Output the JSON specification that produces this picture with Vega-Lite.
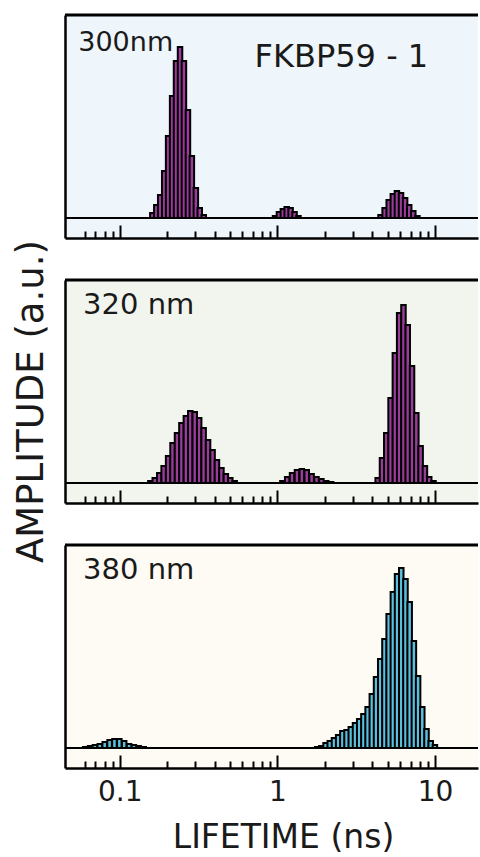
{
  "$schema": "https://vega.github.io/schema/vega-lite/v6.json",
  "background": "white",
  "padding": {"left": 11, "top": 13, "right": 0, "bottom": 0},
  "spacing": 42,
  "bounds": "flush",
  "config": {"view": {"stroke": null}, "font": "DejaVu Sans", "axis": {"grid": false}},
  "datasets": {
    "bars": [
      {"panel": 300, "lifetime": 0.1608, "amplitude": 5},
      {"panel": 300, "lifetime": 0.1704, "amplitude": 13},
      {"panel": 300, "lifetime": 0.1804, "amplitude": 23},
      {"panel": 300, "lifetime": 0.1913, "amplitude": 47},
      {"panel": 300, "lifetime": 0.2025, "amplitude": 82},
      {"panel": 300, "lifetime": 0.2147, "amplitude": 122},
      {"panel": 300, "lifetime": 0.2273, "amplitude": 157},
      {"panel": 300, "lifetime": 0.2410, "amplitude": 171},
      {"panel": 300, "lifetime": 0.2551, "amplitude": 157},
      {"panel": 300, "lifetime": 0.2705, "amplitude": 108},
      {"panel": 300, "lifetime": 0.2864, "amplitude": 62},
      {"panel": 300, "lifetime": 0.3036, "amplitude": 30},
      {"panel": 300, "lifetime": 0.3214, "amplitude": 10},
      {"panel": 300, "lifetime": 0.3407, "amplitude": 3},
      {"panel": 300, "lifetime": 0.965, "amplitude": 2},
      {"panel": 300, "lifetime": 1.022, "amplitude": 6},
      {"panel": 300, "lifetime": 1.082, "amplitude": 9},
      {"panel": 300, "lifetime": 1.145, "amplitude": 11},
      {"panel": 300, "lifetime": 1.212, "amplitude": 10},
      {"panel": 300, "lifetime": 1.284, "amplitude": 6},
      {"panel": 300, "lifetime": 1.359, "amplitude": 2},
      {"panel": 300, "lifetime": 4.507, "amplitude": 3},
      {"panel": 300, "lifetime": 4.786, "amplitude": 10},
      {"panel": 300, "lifetime": 5.081, "amplitude": 18},
      {"panel": 300, "lifetime": 5.394, "amplitude": 24},
      {"panel": 300, "lifetime": 5.727, "amplitude": 27},
      {"panel": 300, "lifetime": 6.080, "amplitude": 25},
      {"panel": 300, "lifetime": 6.455, "amplitude": 20},
      {"panel": 300, "lifetime": 6.853, "amplitude": 13},
      {"panel": 300, "lifetime": 7.275, "amplitude": 7},
      {"panel": 300, "lifetime": 7.724, "amplitude": 2},
      {"panel": 320, "lifetime": 0.1562, "amplitude": 2},
      {"panel": 320, "lifetime": 0.1666, "amplitude": 5},
      {"panel": 320, "lifetime": 0.1779, "amplitude": 10},
      {"panel": 320, "lifetime": 0.1897, "amplitude": 17},
      {"panel": 320, "lifetime": 0.2025, "amplitude": 27},
      {"panel": 320, "lifetime": 0.2160, "amplitude": 40},
      {"panel": 320, "lifetime": 0.2306, "amplitude": 50},
      {"panel": 320, "lifetime": 0.2459, "amplitude": 60},
      {"panel": 320, "lifetime": 0.2625, "amplitude": 67},
      {"panel": 320, "lifetime": 0.2799, "amplitude": 72},
      {"panel": 320, "lifetime": 0.2988, "amplitude": 71},
      {"panel": 320, "lifetime": 0.3187, "amplitude": 65},
      {"panel": 320, "lifetime": 0.3402, "amplitude": 55},
      {"panel": 320, "lifetime": 0.3629, "amplitude": 43},
      {"panel": 320, "lifetime": 0.3877, "amplitude": 33},
      {"panel": 320, "lifetime": 0.4132, "amplitude": 23},
      {"panel": 320, "lifetime": 0.4412, "amplitude": 15},
      {"panel": 320, "lifetime": 0.4705, "amplitude": 9},
      {"panel": 320, "lifetime": 0.5023, "amplitude": 5},
      {"panel": 320, "lifetime": 0.5356, "amplitude": 2},
      {"panel": 320, "lifetime": 1.074, "amplitude": 2},
      {"panel": 320, "lifetime": 1.153, "amplitude": 6},
      {"panel": 320, "lifetime": 1.238, "amplitude": 10},
      {"panel": 320, "lifetime": 1.330, "amplitude": 13},
      {"panel": 320, "lifetime": 1.428, "amplitude": 14},
      {"panel": 320, "lifetime": 1.534, "amplitude": 13},
      {"panel": 320, "lifetime": 1.647, "amplitude": 9},
      {"panel": 320, "lifetime": 1.769, "amplitude": 6},
      {"panel": 320, "lifetime": 1.900, "amplitude": 4},
      {"panel": 320, "lifetime": 2.040, "amplitude": 2},
      {"panel": 320, "lifetime": 2.191, "amplitude": 1},
      {"panel": 320, "lifetime": 4.324, "amplitude": 5},
      {"panel": 320, "lifetime": 4.605, "amplitude": 25},
      {"panel": 320, "lifetime": 4.902, "amplitude": 50},
      {"panel": 320, "lifetime": 5.220, "amplitude": 85},
      {"panel": 320, "lifetime": 5.557, "amplitude": 130},
      {"panel": 320, "lifetime": 5.917, "amplitude": 170},
      {"panel": 320, "lifetime": 6.301, "amplitude": 178},
      {"panel": 320, "lifetime": 6.709, "amplitude": 158},
      {"panel": 320, "lifetime": 7.142, "amplitude": 117},
      {"panel": 320, "lifetime": 7.604, "amplitude": 70},
      {"panel": 320, "lifetime": 8.097, "amplitude": 37},
      {"panel": 320, "lifetime": 8.622, "amplitude": 17},
      {"panel": 320, "lifetime": 9.181, "amplitude": 6},
      {"panel": 320, "lifetime": 9.775, "amplitude": 2},
      {"panel": 380, "lifetime": 0.06029, "amplitude": 1},
      {"panel": 380, "lifetime": 0.06474, "amplitude": 2},
      {"panel": 380, "lifetime": 0.06953, "amplitude": 3},
      {"panel": 380, "lifetime": 0.07465, "amplitude": 4},
      {"panel": 380, "lifetime": 0.08017, "amplitude": 6},
      {"panel": 380, "lifetime": 0.08610, "amplitude": 8},
      {"panel": 380, "lifetime": 0.09246, "amplitude": 9},
      {"panel": 380, "lifetime": 0.09929, "amplitude": 9},
      {"panel": 380, "lifetime": 0.1066, "amplitude": 7},
      {"panel": 380, "lifetime": 0.1145, "amplitude": 4},
      {"panel": 380, "lifetime": 0.1230, "amplitude": 3},
      {"panel": 380, "lifetime": 0.1320, "amplitude": 2},
      {"panel": 380, "lifetime": 0.1418, "amplitude": 1},
      {"panel": 380, "lifetime": 1.785, "amplitude": 1},
      {"panel": 380, "lifetime": 1.899, "amplitude": 2},
      {"panel": 380, "lifetime": 2.020, "amplitude": 5},
      {"panel": 380, "lifetime": 2.147, "amplitude": 7},
      {"panel": 380, "lifetime": 2.283, "amplitude": 10},
      {"panel": 380, "lifetime": 2.428, "amplitude": 13},
      {"panel": 380, "lifetime": 2.582, "amplitude": 17},
      {"panel": 380, "lifetime": 2.745, "amplitude": 18},
      {"panel": 380, "lifetime": 2.920, "amplitude": 21},
      {"panel": 380, "lifetime": 3.105, "amplitude": 25},
      {"panel": 380, "lifetime": 3.301, "amplitude": 29},
      {"panel": 380, "lifetime": 3.510, "amplitude": 34},
      {"panel": 380, "lifetime": 3.733, "amplitude": 41},
      {"panel": 380, "lifetime": 3.969, "amplitude": 54},
      {"panel": 380, "lifetime": 4.221, "amplitude": 71},
      {"panel": 380, "lifetime": 4.488, "amplitude": 89},
      {"panel": 380, "lifetime": 4.773, "amplitude": 109},
      {"panel": 380, "lifetime": 5.076, "amplitude": 134},
      {"panel": 380, "lifetime": 5.396, "amplitude": 156},
      {"panel": 380, "lifetime": 5.738, "amplitude": 174},
      {"panel": 380, "lifetime": 6.102, "amplitude": 180},
      {"panel": 380, "lifetime": 6.489, "amplitude": 169},
      {"panel": 380, "lifetime": 6.901, "amplitude": 146},
      {"panel": 380, "lifetime": 7.338, "amplitude": 107},
      {"panel": 380, "lifetime": 7.803, "amplitude": 72},
      {"panel": 380, "lifetime": 8.296, "amplitude": 41},
      {"panel": 380, "lifetime": 8.823, "amplitude": 19},
      {"panel": 380, "lifetime": 9.383, "amplitude": 7},
      {"panel": 380, "lifetime": 9.977, "amplitude": 3}
    ],
    "labels": [
      {"panel": 300, "kind": "wavelength", "label": "300nm"},
      {"panel": 300, "kind": "sample", "label": "FKBP59 - 1"},
      {"panel": 320, "kind": "wavelength", "label": "320 nm"},
      {"panel": 380, "kind": "wavelength", "label": "380 nm"}
    ]
  },
  "vconcat": [
    {
      "width": 413, "height": 223,
      "view": {"fill": "#eef5fb", "stroke": null},
      "layer": [
        {
          "data": {"name": "bars"},
          "transform": [{"filter": "datum.panel == 300"}],
          "mark": {"type": "bar", "orient": "vertical", "width": 4.5, "fill": "#9b3c9c", "stroke": "black", "strokeWidth": 2},
          "encoding": {
            "x": {"field": "lifetime", "type": "quantitative",
              "scale": {"type": "log", "domain": [0.0483, 17.4], "nice": false},
              "axis": {"title": null, "values": [0.06,0.07,0.08,0.09,0.1,0.2,0.3,0.4,0.5,0.6,0.7,0.8,0.9,1,2,3,4,5,6,7,8,9,10], "labels": false, "domainColor": "black", "domainWidth": 2.5, "tickColor": "black", "tickWidth": 2,
                "tickSize": {"condition": {"test": "datum.value == 0.1 || datum.value == 1 || datum.value == 10", "value": -13}, "value": -7}}},
            "y": {"field": "amplitude", "type": "quantitative",
              "scale": {"domain": [-20, 203], "nice": false, "zero": false},
              "axis": {"title": null, "labels": false, "ticks": false, "domainColor": "black", "domainWidth": 2.5}},
            "y2": {"datum": 0}
          }
        },
        {
          "data": {"name": "labels"},
          "transform": [{"filter": "datum.panel == 300 && datum.kind == 'wavelength'"}],
          "mark": {"type": "rule", "stroke": "black", "strokeWidth": 2},
          "encoding": {"y": {"datum": 0, "type": "quantitative"}}
        },
        {
          "data": {"name": "labels"},
          "transform": [{"filter": "datum.panel == 300 && datum.kind == 'wavelength'"}],
          "mark": {"type": "rule", "stroke": "black", "strokeWidth": 3},
          "encoding": {"y": {"datum": 203, "type": "quantitative"}}
        },
        {
          "data": {"name": "labels"},
          "transform": [{"filter": "datum.panel == 300 && datum.kind == 'wavelength'"}],
          "mark": {"type": "text", "align": "left", "baseline": "middle", "fontSize": 27, "font": "DejaVu Sans", "color": "#1a1a1a"},
          "encoding": {"x": {"datum": 0.0545, "type": "quantitative"}, "y": {"datum": 175, "type": "quantitative"}, "text": {"field": "label"}}
        },
        {
          "data": {"name": "labels"},
          "transform": [{"filter": "datum.panel == 300 && datum.kind == 'sample'"}],
          "mark": {"type": "text", "align": "center", "baseline": "middle", "fontSize": 32, "font": "DejaVu Sans", "color": "#1a1a1a"},
          "encoding": {"x": {"datum": 2.545, "type": "quantitative"}, "y": {"datum": 161, "type": "quantitative"}, "text": {"field": "label"}}
        }
      ]
    },
    {
      "width": 413, "height": 223,
      "view": {"fill": "#f2f5ee", "stroke": null},
      "layer": [
        {
          "data": {"name": "bars"},
          "transform": [{"filter": "datum.panel == 320"}],
          "mark": {"type": "bar", "orient": "vertical", "width": 4.5, "fill": "#9b3c9c", "stroke": "black", "strokeWidth": 2},
          "encoding": {
            "x": {"field": "lifetime", "type": "quantitative",
              "scale": {"type": "log", "domain": [0.0483, 17.4], "nice": false},
              "axis": {"title": null, "values": [0.06,0.07,0.08,0.09,0.1,0.2,0.3,0.4,0.5,0.6,0.7,0.8,0.9,1,2,3,4,5,6,7,8,9,10], "labels": false, "domainColor": "black", "domainWidth": 2.5, "tickColor": "black", "tickWidth": 2,
                "tickSize": {"condition": {"test": "datum.value == 0.1 || datum.value == 1 || datum.value == 10", "value": -13}, "value": -7}}},
            "y": {"field": "amplitude", "type": "quantitative",
              "scale": {"domain": [-20, 203], "nice": false, "zero": false},
              "axis": {"title": "AMPLITUDE (a.u.)", "labels": false, "ticks": false, "domainColor": "black", "domainWidth": 2.5,
                "titleFont": "DejaVu Sans", "titleFontSize": 37, "titleFontWeight": "normal", "titleColor": "#1a1a1a",
                "titleX": -34, "titleY": 121, "titleAngle": -90, "titleAlign": "center", "titleBaseline": "middle"}},
            "y2": {"datum": 0}
          }
        },
        {
          "data": {"name": "labels"},
          "transform": [{"filter": "datum.panel == 320"}],
          "mark": {"type": "rule", "stroke": "black", "strokeWidth": 2},
          "encoding": {"y": {"datum": 0, "type": "quantitative"}}
        },
        {
          "data": {"name": "labels"},
          "transform": [{"filter": "datum.panel == 320"}],
          "mark": {"type": "rule", "stroke": "black", "strokeWidth": 3},
          "encoding": {"y": {"datum": 203, "type": "quantitative"}}
        },
        {
          "data": {"name": "labels"},
          "transform": [{"filter": "datum.panel == 320"}],
          "mark": {"type": "text", "align": "left", "baseline": "middle", "fontSize": 29, "font": "DejaVu Sans", "color": "#1a1a1a"},
          "encoding": {"x": {"datum": 0.0585, "type": "quantitative"}, "y": {"datum": 178, "type": "quantitative"}, "text": {"field": "label"}}
        }
      ]
    },
    {
      "width": 413, "height": 223,
      "view": {"fill": "#fdfbf3", "stroke": null},
      "layer": [
        {
          "data": {"name": "bars"},
          "transform": [{"filter": "datum.panel == 380"}],
          "mark": {"type": "bar", "orient": "vertical", "width": 4.5, "fill": "#5bc0de", "stroke": "black", "strokeWidth": 2},
          "encoding": {
            "x": {"field": "lifetime", "type": "quantitative",
              "scale": {"type": "log", "domain": [0.0483, 17.4], "nice": false},
              "axis": {"title": "LIFETIME (ns)", "values": [0.06,0.07,0.08,0.09,0.1,0.2,0.3,0.4,0.5,0.6,0.7,0.8,0.9,1,2,3,4,5,6,7,8,9,10],
                "labelExpr": "datum.value == 0.1 ? '0.1' : datum.value == 1 ? '1' : datum.value == 10 ? '10' : ''",
                "labelOverlap": false, "labelFlush": false, "labelFont": "DejaVu Sans", "labelFontSize": 28, "labelColor": "#1a1a1a", "labelPadding": 23, "labelBaseline": "top",
                "domainColor": "black", "domainWidth": 2.5, "tickColor": "black", "tickWidth": 2,
                "tickSize": {"condition": {"test": "datum.value == 0.1 || datum.value == 1 || datum.value == 10", "value": -13}, "value": -7},
                "titleFont": "DejaVu Sans", "titleFontSize": 33, "titleFontWeight": "normal", "titleColor": "#1a1a1a",
                "titleX": 218, "titleY": 69, "titleAlign": "center", "titleBaseline": "middle"}},
            "y": {"field": "amplitude", "type": "quantitative",
              "scale": {"domain": [-20, 203], "nice": false, "zero": false},
              "axis": {"title": null, "labels": false, "ticks": false, "domainColor": "black", "domainWidth": 2.5}},
            "y2": {"datum": 0}
          }
        },
        {
          "data": {"name": "labels"},
          "transform": [{"filter": "datum.panel == 380"}],
          "mark": {"type": "rule", "stroke": "black", "strokeWidth": 2},
          "encoding": {"y": {"datum": 0, "type": "quantitative"}}
        },
        {
          "data": {"name": "labels"},
          "transform": [{"filter": "datum.panel == 380"}],
          "mark": {"type": "rule", "stroke": "black", "strokeWidth": 3},
          "encoding": {"y": {"datum": 203, "type": "quantitative"}}
        },
        {
          "data": {"name": "labels"},
          "transform": [{"filter": "datum.panel == 380"}],
          "mark": {"type": "text", "align": "left", "baseline": "middle", "fontSize": 29, "font": "DejaVu Sans", "color": "#1a1a1a"},
          "encoding": {"x": {"datum": 0.0585, "type": "quantitative"}, "y": {"datum": 178, "type": "quantitative"}, "text": {"field": "label"}}
        }
      ]
    }
  ]
}
